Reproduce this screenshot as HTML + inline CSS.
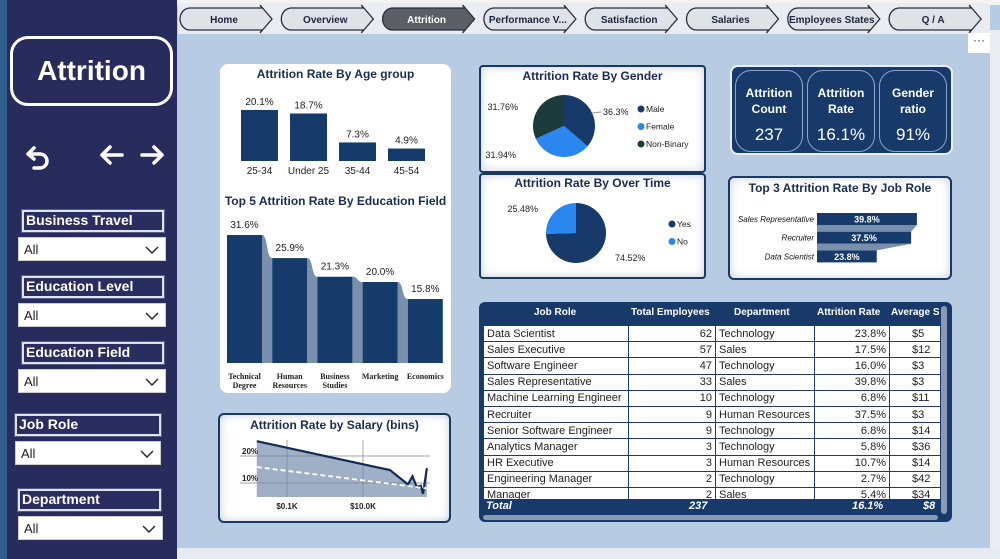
<!DOCTYPE html>
<html><head><meta charset="utf-8">
<style>
*{box-sizing:border-box;margin:0;padding:0}
body{width:1000px;height:559px;overflow:hidden;background:#b7cbe2;font-family:"Liberation Sans",sans-serif;position:relative}
.abs{position:absolute}
.side{left:0;top:0;width:177px;height:559px;background:#282c5c;border-left:7px solid #2f5d8c}
.title-box{left:10px;top:36px;width:163px;height:70px;border:3px solid #fff;border-radius:18px;color:#fff;font-weight:bold;font-size:28px;text-align:center;line-height:64px}
.flab{background:#2a2d60;border:2px solid #dfe3ee;outline:1px solid #555a8a;color:#fff;font-weight:bold;font-size:14px;padding-left:2px;line-height:17px}
.dd{background:#fff;border:1px solid #ccc;font-size:13px;padding-left:5px;line-height:23px;color:#222}
.dd svg{position:absolute;right:6px;top:8px}
.card{background:#fff;border-radius:8px}
.ttl{font-weight:bold;font-size:12px;color:#1a2c55;text-align:center;width:100%}
.bcard{background:#fff;border:2px solid #1a3866;border-radius:4px;box-shadow:inset 0 0 10px #c8d2e0}
table{border-collapse:collapse;font-size:11px}
td{border:1px solid #1e3a66;height:16.2px;padding:0 3px;white-space:nowrap;color:#222}
#main{z-index:10;pointer-events:none}
</style></head><body>
<div class="abs" style="left:0;top:0;width:1000px;height:5px;background:#f3f3f3"></div>
<div class="abs" style="left:990px;top:30px;width:10px;height:520px;background:#e9ecf0"></div>
<div class="abs" style="left:0;top:548px;width:1000px;height:11px;background:#e6ebf2"></div>

<div class="abs side"></div>
<div class="abs title-box">Attrition</div>
<svg class="abs" style="left:20px;top:140px" width="150" height="32">
 <g stroke="#fff" stroke-width="3.5" fill="none" stroke-linecap="round">
  <path d="M8 14 L14 8 M8 14 L14 19 M8 14 H20 A7 7 0 0 1 20 28 H14"/>
  <path d="M82 15 H102 M82 15 L90 7 M82 15 L90 23"/>
  <path d="M122 15 H142 M142 15 L134 7 M142 15 L134 23"/>
 </g></svg>
<div id="filters"></div>

<svg class="abs" style="left:178px;top:3px" width="812" height="31" id="nav"></svg>
<div class="abs" style="left:968px;top:33px;width:22px;height:20px;background:#fff;font-size:12px;text-align:center;line-height:14px;color:#333">···</div>

<div class="abs card" style="left:220px;top:64px;width:231px;height:329px">
 <div class="abs ttl" style="top:3px">Attrition Rate By Age group</div>
 <div class="abs ttl" style="top:130px">Top 5 Attrition Rate By Education Field</div>
</div>

<div class="abs bcard" style="left:479px;top:65px;width:227px;height:108px"><div class="ttl" style="margin-top:2px">Attrition Rate By Gender</div></div>
<div class="abs bcard" style="left:479px;top:173px;width:227px;height:106px"><div class="ttl" style="margin-top:1px">Attrition Rate By Over Time</div></div>

<div class="abs" style="left:730px;top:65px;width:223px;height:90px;background:#173a6b;border-radius:8px;border:2px solid #e8eef6">
 <div class="abs" style="left:3px;top:3px;width:68px;height:82px;border:1px solid #8ea6c8;border-radius:16px;color:#fff;text-align:center"><div style="font-weight:bold;font-size:12px;line-height:16px;margin-top:14px">Attrition<br>Count</div><div style="font-size:17px;margin-top:8px">237</div></div>
 <div class="abs" style="left:75px;top:3px;width:68px;height:82px;border:1px solid #8ea6c8;border-radius:16px;color:#fff;text-align:center"><div style="font-weight:bold;font-size:12px;line-height:16px;margin-top:14px">Attrition<br>Rate</div><div style="font-size:17px;margin-top:8px">16.1%</div></div>
 <div class="abs" style="left:147px;top:3px;width:68px;height:82px;border:1px solid #8ea6c8;border-radius:16px;color:#fff;text-align:center"><div style="font-weight:bold;font-size:12px;line-height:16px;margin-top:14px">Gender<br>ratio</div><div style="font-size:17px;margin-top:8px">91%</div></div>
</div>

<div class="abs bcard" style="left:728px;top:176px;width:224px;height:104px;border-radius:6px"><div class="ttl" style="margin-top:3px">Top 3 Attrition Rate By Job Role</div></div>

<div class="abs bcard" style="left:218px;top:413px;width:233px;height:110px;border-radius:6px"><div class="ttl" style="margin-top:3px">Attrition Rate by Salary (bins)</div></div>

<div class="abs" style="left:479px;top:302px;width:473px;height:220px;background:#173a6b;border-radius:6px;overflow:hidden">
 <div class="abs" id="thead" style="left:0;top:0;width:473px;height:22px;color:#fff;font-weight:bold;font-size:10px"></div>
 <div class="abs" style="left:4px;top:23px;width:457px;height:174px;overflow:hidden;background:#fff">
  <table id="tbl" style="width:470px;table-layout:fixed"><colgroup><col style="width:145px"><col style="width:87px"><col style="width:99px"><col style="width:75px"><col style="width:64px"></colgroup><tbody></tbody></table>
 </div>
 <div class="abs" style="top:197px;left:0;width:473px;height:15px;color:#fff;font-weight:bold;font-style:italic;font-size:11px;text-decoration:underline">
  <span class="abs" style="left:7px;top:1px">Total</span><span class="abs" style="left:210px;top:1px">237</span><span class="abs" style="left:373px;top:1px">16.1%</span><span class="abs" style="left:444px;top:1px">$8</span></div>
 <div class="abs" style="left:4px;top:213px;width:455px;height:5px;background:#8a9ab4;border-radius:3px"></div>
 <div class="abs" style="left:462px;top:4px;width:6px;height:208px;background:#8a9ab4;border-radius:3px"></div>
</div>

<svg class="abs" style="left:0;top:0" width="1000" height="559" id="main"></svg>

<script>
const NS="http://www.w3.org/2000/svg";
function el(tag,attrs,parent,txt){const e=document.createElementNS(NS,tag);for(const k in attrs)e.setAttribute(k,attrs[k]);if(txt!==undefined)e.textContent=txt;parent.appendChild(e);return e;}
const main=document.getElementById('main');

const navPages=["Home","Overview","Attrition","Performance V...","Satisfaction","Salaries","Employees States","Q / A"];
const filterNames=["Business Travel","Education Level","Education Field","Job Role","Department"];
const ageGroups=["25-34","Under 25","35-44","45-54"];
const ageRates=[20.1,18.7,7.3,4.9];
const eduFields=[["Technical","Degree"],["Human","Resources"],["Business","Studies"],["Marketing"],["Economics"]];
const eduRates=[31.6,25.9,21.3,20.0,15.8];
const genderLabels=["Male","Female","Non-Binary"];
const genderShares=[36.3,31.94,31.76];
const otLabels=["Yes","No"];
const otShares=[74.52,25.48];
const topRoles=["Sales Representative","Recruiter","Data Scientist"];
const topRates=[39.8,37.5,23.8];
const salaryK=[0.016,51,152,200,260,330,380,480];
const salaryRate=[25.5,14.8,9.5,12.5,8.5,9.0,6.0,15.5];
const trendRate=[15.9,8.0];
const salaryTicks=[0.1,10];
const rateTicks=[10,20];
const tblRoles=["Data Scientist","Sales Executive","Software Engineer","Sales Representative","Machine Learning Engineer","Recruiter","Senior Software Engineer","Analytics Manager","HR Executive","Engineering Manager","Manager"];
const tblTotals=[62,57,47,33,10,9,9,3,3,2,2];
const tblDepts=["Technology","Sales","Technology","Sales","Technology","Human Resources","Technology","Technology","Human Resources","Technology","Sales"];
const tblRates=["23.8%","17.5%","16.0%","39.8%","6.8%","37.5%","6.8%","5.8%","10.7%","2.7%","5.4%"];
const tblAvg=["$5","$12","$3","$3","$11","$3","$14","$36","$14","$42","$34"];

const nav=document.getElementById('nav');
el('rect',{x:0,y:0,width:812,height:31,fill:'#e9edf2'},nav);
navPages.forEach((p,i)=>{
 const x=2+i*101.3, w=92, y=5, h=22;
 const active=i===2;
 const g=el('g',{},nav);
 
 
 el('path',{d:`M${x+10} ${y} H${x+w-10} L${x+w-12} ${y-3} L${x+w} ${y+h/2} L${x+w-12} ${y+h+3} L${x+w-10} ${y+h} H${x+10} A10 11 0 0 1 ${x+10} ${y}Z`,fill:active?'#5b5f66':'#dfe2e6',stroke:'#2a2d3a','stroke-width':1.3},g);
 el('text',{x:x+w/2-2,y:y+15,'text-anchor':'middle','font-size':10,'font-weight':'bold',fill:active?'#fff':'#1d2540'},g,p);
});

const ftops=[[22,210,142,237,148],[22,276,142,303,148],[22,342,142,369,148],[15,414,146,441,146],[18,489,143,516,145]];
const fc=document.getElementById('filters');
filterNames.forEach((n,i)=>{
 const [lx,ly,lw,dy,dw]=ftops[i];
 const l=document.createElement('div');l.className='abs flab';
 l.style.cssText=`left:${lx}px;top:${ly}px;width:${lw}px;height:22px`;l.textContent=n;
 
 fc.appendChild(l);
 const d=document.createElement('div');d.className='abs dd';
 d.style.cssText=`left:${i===3?15:18}px;top:${dy}px;width:${dw}px;height:24px`;
 d.innerHTML='All<svg width="14" height="8"><path d="M1 1 L7 7 L13 1" stroke="#222" fill="none" stroke-width="1.4"/></svg>';
 
 fc.appendChild(d);
});

const ageY=v=>161-v*2.54, ageX=i=>241+i*49;
ageGroups.forEach((g,i)=>{
 const r=el('rect',{x:ageX(i),y:ageY(ageRates[i]),width:37,height:161-ageY(ageRates[i]),fill:'#163a6a'},main);
 
 
 el('text',{x:ageX(i)+18.5,y:ageY(ageRates[i])-5,'text-anchor':'middle','font-size':10,fill:'#222'},main,ageRates[i].toFixed(1)+'%');
 el('text',{x:ageX(i)+18.5,y:174,'text-anchor':'middle','font-size':10,fill:'#222'},main,g);
});

const eduY=v=>363-v*4.05, eduX=i=>227+i*45.2;
eduRates.forEach((v,i)=>{
 if(i<eduRates.length-1){
  const x1=eduX(i)+35,x2=eduX(i+1),y1=eduY(v),y2=eduY(eduRates[i+1]);
  el('path',{d:`M${x1} ${y1} C${x1+6} ${y1} ${x2-6} ${y2} ${x2} ${y2} V363 H${x1}Z`,fill:'#7890ab'},main);
 }
});
eduRates.forEach((v,i)=>{
 const r=el('rect',{x:eduX(i),y:eduY(v),width:35,height:363-eduY(v),fill:'#163a6a'},main);
 
 
 el('text',{x:eduX(i)+17.5,y:eduY(v)-7,'text-anchor':'middle','font-size':10,fill:'#222'},main,v.toFixed(1)+'%');
 eduFields[i].forEach((t,j)=>el('text',{x:eduX(i)+17.5,y:379+j*9,'text-anchor':'middle','font-size':8,'font-family':'Liberation Serif','font-weight':'bold',fill:'#222'},main,t));
});

function pie(cx,cy,r,shares,colors,name){
 let a=0;const tot=shares.reduce((s,v)=>s+v,0);
 shares.forEach((v,i)=>{
  const a0=a/tot*2*Math.PI, a1=(a+v)/tot*2*Math.PI;a+=v;
  const p=(t)=>[cx+r*Math.sin(t),cy-r*Math.cos(t)];
  const [x0,y0]=p(a0),[x1,y1]=p(a1);
  const s=el('path',{d:`M${cx} ${cy} L${x0} ${y0} A${r} ${r} 0 ${a1-a0>Math.PI?1:0} 1 ${x1} ${y1}Z`,fill:colors[i]},main);
  
  
 });
}
const gCols=['#173a6a','#2b87f0','#1c3b3b'];
pie(564,126,31,genderShares,gCols,'gender');
el('line',{x1:592,y1:113,x2:601,y2:112,stroke:'#999'},main);
el('text',{x:603,y:115,'font-size':9,fill:'#222'},main,genderShares[0]+'%');
el('text',{x:516,y:158,'text-anchor':'end','font-size':9,fill:'#222'},main,genderShares[1]+'%');
el('text',{x:518,y:110,'text-anchor':'end','font-size':9,fill:'#222'},main,genderShares[2]+'%');
genderLabels.forEach((l,i)=>{el('circle',{cx:641,cy:109+i*17.5,r:3.5,fill:gCols[i]},main);el('text',{x:646,y:112+i*17.5,'font-size':8.5,fill:'#222'},main,l);});
const oCols=['#173a6a','#2b87f0'];
pie(576,233,30,otShares,oCols,'overtime');
el('text',{x:615,y:261,'font-size':9,fill:'#222'},main,otShares[0]+'%');
el('text',{x:538,y:212,'text-anchor':'end','font-size':9,fill:'#222'},main,otShares[1]+'%');
otLabels.forEach((l,i)=>{el('circle',{cx:672,cy:224+i*17.5,r:3.5,fill:oCols[i]},main);el('text',{x:677,y:227+i*17.5,'font-size':8.5,fill:'#222'},main,l);});

const topX=v=>817+v*2.51;
topRates.forEach((v,i)=>{
 const y=213+i*18.7;
 if(i<topRates.length-1) el('path',{d:`M817 ${y+12} H${topX(v)} L${topX(topRates[i+1])} ${y+18.7} H817Z`,fill:'#7890ab'},main);
 const r=el('rect',{x:817,y:y,width:topX(v)-817,height:12,fill:'#163a6a'},main);
 
 
 el('text',{x:(817+topX(v))/2,y:y+9.5,'text-anchor':'middle','font-size':9,'font-weight':'bold',fill:'#fff'},main,v.toFixed(1)+'%');
 el('text',{x:814,y:y+9,'text-anchor':'end','font-size':8,'font-style':'italic',fill:'#111'},main,topRoles[i]);
});

const sX=k=>287+(Math.log10(k)-Math.log10(0.1))*38, sY=v=>483-(v-10)*2.7;
const sx1=430,sy0=440,sy1=497;
let area=`M${sX(salaryK[0])} ${sy1}`;salaryK.forEach((k,i)=>area+=` L${sX(k)} ${sY(salaryRate[i])}`);area+=` L${sX(salaryK[salaryK.length-1])} ${sy1}Z`;
el('path',{d:area,fill:'#9fb0c6'},main);
rateTicks.forEach(t=>{el('line',{x1:240,x2:sx1,y1:sY(t),y2:sY(t),stroke:'#7c8796','stroke-width':0.7},main);el('text',{x:242,y:sY(t)-2,'font-size':8,'font-weight':'bold',fill:'#222'},main,t+'%');});
salaryTicks.forEach(t=>{el('line',{x1:sX(t),x2:sX(t),y1:sy0,y2:sy1,stroke:'#7c8796','stroke-width':0.7},main);el('text',{x:sX(t),y:509,'text-anchor':'middle','font-size':8,'font-weight':'bold',fill:'#222'},main,'$'+t.toFixed(1)+'K');});
let ln='';salaryK.forEach((k,i)=>ln+=(i?' L':'M')+sX(k)+' '+sY(salaryRate[i]));
const sl=el('path',{d:ln,stroke:'#132a55','stroke-width':2.2,fill:'none'},main);


el('line',{x1:sX(salaryK[0]),y1:sY(trendRate[0]),x2:sX(salaryK[salaryK.length-1]),y2:sY(trendRate[1]),stroke:'#fff','stroke-width':1.8,'stroke-dasharray':'5 3'},main);

const th=document.getElementById('thead');
[["Job Role",55],["Total Employees",152],["Department",255],["Attrition Rate",338],["Average S",412]].forEach(([t,x])=>{const s=document.createElement('span');s.className='abs';s.style.cssText=`left:${x}px;top:5px;white-space:nowrap`;s.textContent=t;th.appendChild(s);});
const tb=document.querySelector('#tbl tbody');
tblRoles.forEach((r,i)=>{
 const tr=document.createElement('tr');
 
 
 tr.innerHTML=`<td>${r}</td><td style="text-align:right">${tblTotals[i]}</td><td>${tblDepts[i]}</td><td style="text-align:right">${tblRates[i]}</td><td style="overflow:hidden;padding-left:22px">${tblAvg[i]}</td>`;
 tb.appendChild(tr);
});
</script>
</body></html>
